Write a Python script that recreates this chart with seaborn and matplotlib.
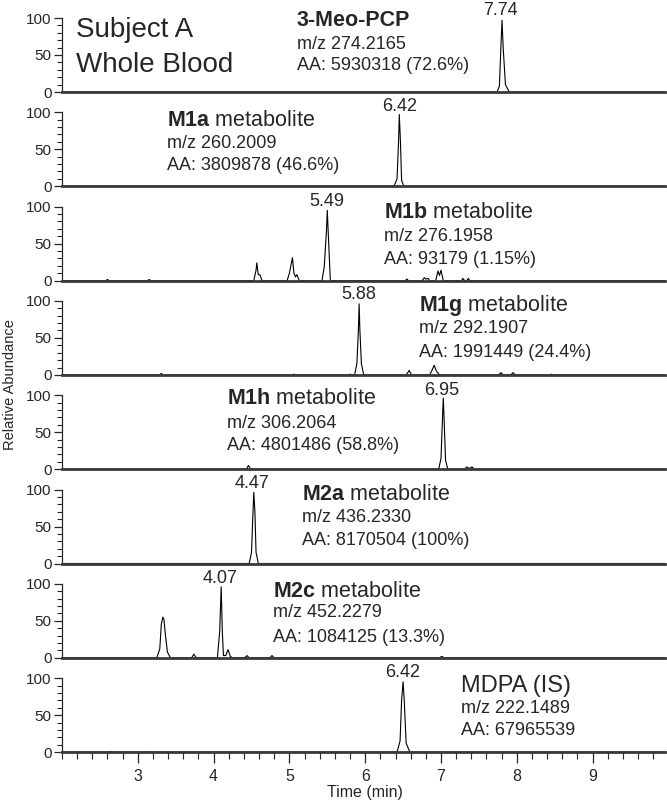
import matplotlib
matplotlib.use("Agg")
import matplotlib.pyplot as plt
from matplotlib.ticker import MultipleLocator
import seaborn as sns

# Chromatogram traces, vertices (time in min, relative abundance in %)
meo_pcp_t = [2.0, 7.74, 7.77, 7.79, 7.805, 7.82, 7.85, 7.90, 9.955]
meo_pcp_a = [0, 0, 8, 60, 97, 60, 10, 0, 0]

m1a_t = [2.0, 6.38, 6.42, 6.44, 6.45, 6.465, 6.48, 6.51, 9.955]
m1a_a = [0, 0, 10, 60, 97, 60, 8, 0, 0]

m1b_t = [2.0, 2.58, 2.60, 2.62, 3.13, 3.15, 3.17,
         4.53, 4.56, 4.57, 4.59, 4.61, 4.64,
         4.97, 5.00, 5.04, 5.06, 5.08, 5.10, 5.13,
         5.43, 5.46, 5.49, 5.50, 5.51, 5.54,
         6.53, 6.55, 6.57, 6.75, 6.78, 6.80, 6.83, 6.85,
         6.93, 6.96, 6.98, 7.00, 7.03,
         7.27, 7.29, 7.31, 7.34, 7.36, 7.38, 9.955]
m1b_a = [0, 0, 1.5, 0, 0, 1.5, 0,
         0, 14, 24, 8, 8, 0,
         0, 10, 31, 10, 5, 8, 0,
         0, 19, 70, 95, 70, 0,
         0, 2, 0, 0, 4, 2, 3, 0,
         0, 13, 7, 14, 0,
         0, 3, 0, 0, 3, 0, 0]

m1g_t = [2.0, 3.29, 3.31, 3.33, 5.04, 5.06, 5.08, 5.78, 5.80, 5.82,
         5.86, 5.89, 5.91, 5.92, 5.93, 5.95, 5.98,
         6.54, 6.58, 6.61, 6.85, 6.88, 6.91, 6.94, 6.98,
         7.76, 7.79, 7.82, 7.92, 7.95, 7.98, 8.44, 8.46, 8.48, 9.955]
m1g_a = [0, 0, 2, 0, 0, 1, 0, 0, 1, 0,
         0, 15, 60, 96, 60, 15, 0,
         0, 6, 0, 0, 6, 13, 5, 0,
         0, 3, 0, 0, 3, 0, 0, 1, 0, 0]

m1h_t = [2.0, 4.43, 4.46, 4.49, 6.73, 6.75, 6.77,
         6.97, 7.00, 7.02, 7.03, 7.04, 7.06, 7.09,
         7.31, 7.34, 7.37, 7.41, 7.44, 9.955]
m1h_a = [0, 0, 5, 0, 0, 1, 0,
         0, 15, 70, 96, 70, 12, 0,
         0, 3, 1, 3, 0, 0]

m2a_t = [2.0, 4.47, 4.50, 4.52, 4.53, 4.545, 4.56, 4.59, 9.955]
m2a_a = [0, 0, 15, 70, 96, 70, 15, 0, 0]

m2c_t = [2.0, 3.25, 3.29, 3.31, 3.33, 3.345, 3.36, 3.39, 3.43,
         3.71, 3.74, 3.77, 4.05, 4.08, 4.10, 4.115, 4.13, 4.16, 4.19, 4.22, 4.25,
         4.41, 4.44, 4.47, 4.74, 4.77, 4.80, 6.98, 7.01, 7.04, 9.955]
m2c_a = [0, 0, 12, 45, 55, 52, 35, 8, 0,
         0, 5, 0, 0, 35, 96, 35, 3, 3, 11, 2, 0,
         0, 3, 0, 0, 3, 0, 0, 2, 0, 0]

mdpa_t = [2.0, 2.62, 2.64, 2.66, 3.13, 3.15, 3.17,
          6.42, 6.46, 6.48, 6.50, 6.515, 6.54, 6.59, 9.955]
mdpa_a = [0, 0, 1, 0, 0, 1, 0,
          0, 15, 70, 95, 70, 12, 0, 0]

# Label text for each panel
titles = ["3-Meo-PCP", r"$\mathbf{M1a}$ metabolite",
          r"$\mathbf{M1b}$ metabolite", r"$\mathbf{M1g}$ metabolite",
          r"$\mathbf{M1h}$ metabolite", r"$\mathbf{M2a}$ metabolite",
          r"$\mathbf{M2c}$ metabolite", "MDPA (IS)"]
mz_labels = ["m/z 274.2165", "m/z 260.2009", "m/z 276.1958", "m/z 292.1907",
             "m/z 306.2064", "m/z 436.2330", "m/z 452.2279", "m/z 222.1489"]
aa_labels = ["AA: 5930318 (72.6%)", "AA: 3809878 (46.6%)", "AA: 93179 (1.15%)",
             "AA: 1991449 (24.4%)", "AA: 4801486 (58.8%)", "AA: 8170504 (100%)",
             "AA: 1084125 (13.3%)", "AA: 67965539"]
peak_labels = ["7.74", "6.42", "5.49", "5.88", "6.95", "4.47", "4.07", "6.42"]

traces = [(meo_pcp_t, meo_pcp_a), (m1a_t, m1a_a), (m1b_t, m1b_a), (m1g_t, m1g_a),
          (m1h_t, m1h_a), (m2a_t, m2a_a), (m2c_t, m2c_a), (mdpa_t, mdpa_a)]

# where the text blocks sit (time, abundance of each line's baseline)
text_x = [5.10, 3.39, 6.25, 6.71, 4.18, 5.17, 4.79, 7.26]
text_y = [[89, 58, 30], [81, 52, 22], [84, 53, 23], [86, 56, 24],
          [88, 56, 26], [86, 56, 25], [82, 55, 21], [81, 53, 23]]
peak_x = [7.79, 6.45, 5.50, 5.91, 7.01, 4.51, 4.09, 6.49]
peak_y = [104, 102, 101, 102.5, 100, 102, 101, 101.5]

sns.set_style("ticks")
plt.rcParams["font.family"] = ["Liberation Sans", "DejaVu Sans"]
plt.rcParams["mathtext.fontset"] = "custom"
plt.rcParams["mathtext.rm"] = "Liberation Sans"
plt.rcParams["mathtext.bf"] = "Liberation Sans:bold"

W, H = 667, 805
fig = plt.figure(figsize=(W / 100, H / 100), dpi=100)

left, right = 62 / W, 665 / W
for i, (t, a) in enumerate(traces):
    y0 = 92 + 94.3 * i
    ax = fig.add_axes([left, 1 - y0 / H, right - left, 74 / H])
    sns.lineplot(x=t, y=a, ax=ax, color="black", linewidth=0.8,
                 sort=False, estimator=None)
    ax.set_xlim(2.0, 9.955)
    ax.set_ylim(0, 100)
    sns.despine(ax=ax)
    ax.spines["left"].set_bounds(0, 100)
    ax.spines["left"].set_linewidth(0.9)
    ax.spines["bottom"].set_linewidth(2.0)
    ax.spines["bottom"].set_color("#3a3a3a")
    ax.set_yticks([0, 50, 100])
    ax.yaxis.set_minor_locator(MultipleLocator(10))
    ax.tick_params(axis="y", which="major", length=6, width=0.9,
                   labelsize=11, pad=1.5)
    ax.tick_params(axis="y", which="minor", length=3.5, width=0.8)
    ax.set_ylabel("")
    if i < 7:
        ax.set_xticks([])
        ax.tick_params(axis="x", which="both", length=0)
    else:
        ax.set_xticks(range(3, 10))
        ax.xaxis.set_minor_locator(MultipleLocator(0.2))
        ax.tick_params(axis="x", which="major", length=8, width=0.9,
                       labelsize=11.5, pad=4)
        ax.tick_params(axis="x", which="minor", length=5, width=0.8)
    ax.set_xlabel("")

    if i == 0:
        ax.text(text_x[i], text_y[i][0], titles[i], fontsize=15.5, fontweight="bold",
                va="baseline", ha="left", clip_on=False)
    else:
        hs = 17 if i == 7 else 15.5
        ax.text(text_x[i], text_y[i][0], titles[i], fontsize=hs, va="baseline",
                ha="left", clip_on=False)
    ax.text(text_x[i], text_y[i][1], mz_labels[i], fontsize=13, va="baseline",
            ha="left", clip_on=False)
    ax.text(text_x[i], text_y[i][2], aa_labels[i], fontsize=13, va="baseline",
            ha="left", clip_on=False)
    ax.text(peak_x[i], peak_y[i], peak_labels[i], fontsize=13, va="baseline",
            ha="center", clip_on=False)

    if i == 0:
        ax.text(2.18, 74, "Subject A", fontsize=20, va="baseline", clip_on=False)
        ax.text(2.18, 27, "Whole Blood", fontsize=20, va="baseline", clip_on=False)

fig.text(10 / W, 1 - 385 / H, "Relative Abundance", rotation=90,
         fontsize=10.5, ha="center", va="center")
fig.text(365 / W, 1 - 797 / H, "Time (min)", fontsize=11.5,
         ha="center", va="baseline")

fig.savefig("out.png", dpi=100)
